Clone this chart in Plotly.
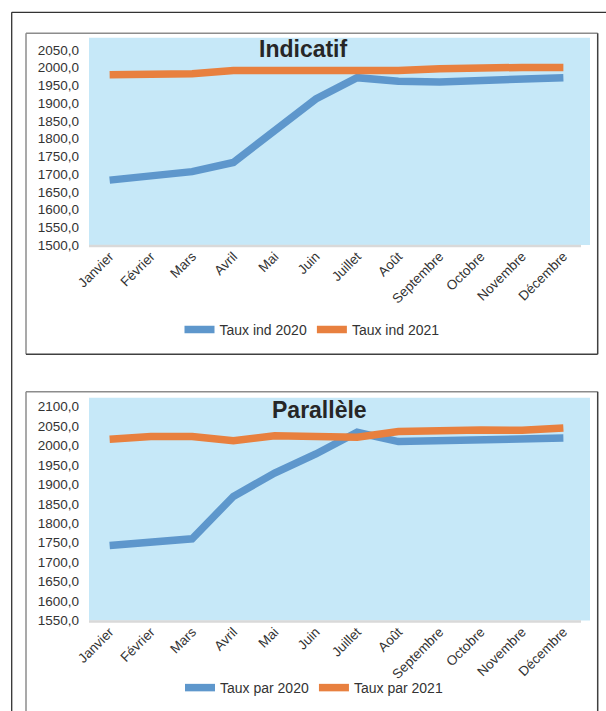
import plotly.graph_objects as go

months = ["Janvier", "Février", "Mars", "Avril", "Mai", "Juin", "Juillet",
          "Août", "Septembre", "Octobre", "Novembre", "Décembre"]
ind_2020 = [1683, 1695, 1707, 1733, 1822, 1912, 1972, 1962, 1960, 1964, 1966, 1972]
ind_2021 = [1980, 1982, 1983, 1992, 1991, 1990, 1990, 1992, 1997, 2001, 2001, 2001]
par_2020 = [1743, 1751, 1760, 1869, 1929, 1978, 2034, 2010, 2013, 2017, 2017, 2019]
par_2021 = [2016, 2023, 2023, 2012, 2025, 2025, 2021, 2036, 2039, 2040, 2039, 2045]
titles = ["Indicatif", "Parallèle"]
names1 = ["Taux ind 2020", "Taux ind 2021"]
names2 = ["Taux par 2020", "Taux par 2021"]

W, H = 606, 711
BLUE = "#5E97CC"
ORANGE = "#E8803F"
BG = "#C6E8F8"
FONT = "Liberation Sans, Arial, sans-serif"


def px(x):
    return x / W


def py(y):
    return 1 - y / H


fig = go.Figure()

fig.add_trace(go.Scatter(x=months, y=ind_2020, name=names1[0], mode="lines",
                         line=dict(color=BLUE, width=7.5), xaxis="x", yaxis="y", legend="legend"))
fig.add_trace(go.Scatter(x=months, y=ind_2021, name=names1[1], mode="lines",
                         line=dict(color=ORANGE, width=7.5), xaxis="x", yaxis="y", legend="legend"))
fig.add_trace(go.Scatter(x=months, y=par_2020, name=names2[0], mode="lines",
                         line=dict(color=BLUE, width=7.5), xaxis="x2", yaxis="y2", legend="legend2"))
fig.add_trace(go.Scatter(x=months, y=par_2021, name=names2[1], mode="lines",
                         line=dict(color=ORANGE, width=7.5), xaxis="x2", yaxis="y2", legend="legend2"))

xcommon = dict(type="category", range=[-0.5, 11.5], showgrid=False, zeroline=False,
               showline=False, ticks="", tickangle=-45, automargin=False,
               tickfont=dict(family=FONT, size=13.5, color="#333333"),
               domain=[px(89), px(584)])
ycommon = dict(showgrid=False, zeroline=False, showline=False, ticks="",
               dtick=50, tickformat=".1f", ticklabelstandoff=9, automargin=False,
               tickfont=dict(family=FONT, size=13.5, color="#333333"))

# chart 1: 1500 at y=245px, 0.3545 px/unit, bg top 38px
top1 = 1500 + (245 - 38) / 0.3545
# chart 2: 1550 at y=620.7px, 0.389 px/unit, bg top 397.7px
top2 = 1550 + (620.5 - 397.7) / 0.389

fig.update_layout(
    width=W, height=H,
    margin=dict(l=0, r=0, t=0, b=0, pad=0, autoexpand=False),
    paper_bgcolor="white",
    plot_bgcolor="rgba(0,0,0,0)",
    separators=",.",
    font=dict(family=FONT, color="#333333"),
    xaxis=dict(anchor="y", **xcommon),
    yaxis=dict(anchor="x", range=[1500, top1], tick0=1500,
               domain=[py(245), py(38)], **ycommon),
    xaxis2=dict(anchor="y2", **xcommon),
    yaxis2=dict(anchor="x2", range=[1550, top2], tick0=1550,
                domain=[py(620.5), py(397.7)], **ycommon),
    legend=dict(orientation="h", x=px(312), y=py(330), xanchor="center", yanchor="middle",
                font=dict(family=FONT, size=14, color="#333333"),
                bgcolor="rgba(0,0,0,0)", itemwidth=30, tracegroupgap=0),
    legend2=dict(orientation="h", x=px(314), y=py(688), xanchor="center", yanchor="middle",
                 font=dict(family=FONT, size=14, color="#333333"),
                 bgcolor="rgba(0,0,0,0)", itemwidth=30, tracegroupgap=0),
    showlegend=True,
)

shapes = []
# outer page frame
shapes.append(dict(type="line", xref="paper", yref="paper", x0=px(11.7), x1=px(606),
                   y0=py(12.3), y1=py(12.3), line=dict(color="#333333", width=1.3)))
shapes.append(dict(type="line", xref="paper", yref="paper", x0=px(11.7), x1=px(11.7),
                   y0=py(12.3), y1=py(711), line=dict(color="#333333", width=1.3)))
# chart frames
for (t, b) in [(33.3, 354.3), (391.7, 711)]:
    shapes.append(dict(type="line", xref="paper", yref="paper", x0=px(26), x1=px(597.7),
                       y0=py(t), y1=py(t), line=dict(color="#8C8C8C", width=1.5)))
    shapes.append(dict(type="line", xref="paper", yref="paper", x0=px(26), x1=px(26),
                       y0=py(b), y1=py(t), line=dict(color="#8C8C8C", width=1.5)))
    shapes.append(dict(type="line", xref="paper", yref="paper", x0=px(597.7), x1=px(597.7),
                       y0=py(b), y1=py(t), line=dict(color="#404040", width=1.5)))
    if b < 700:
        shapes.append(dict(type="line", xref="paper", yref="paper", x0=px(26), x1=px(597.7),
                           y0=py(b), y1=py(b), line=dict(color="#404040", width=1.5)))
# plot area backgrounds and bottom axis lines
for (t, b) in [(37.7, 245), (397.7, 620.5)]:
    shapes.append(dict(type="rect", xref="paper", yref="paper", x0=px(89), x1=px(590),
                       y0=py(b), y1=py(t), fillcolor=BG, line=dict(width=0), layer="below"))
    shapes.append(dict(type="line", xref="paper", yref="paper", x0=px(89), x1=px(581),
                       y0=py(b + 1), y1=py(b + 1), line=dict(color="#D9D9D9", width=2.5),
                       layer="below"))
fig.update_layout(shapes=shapes)

fig.add_annotation(text="<b>" + titles[0] + "</b>", xref="paper", yref="paper",
                   x=px(303), y=py(49), xanchor="center", yanchor="middle", showarrow=False,
                   font=dict(family=FONT, size=23, color="#262626"))
fig.add_annotation(text="<b>" + titles[1] + "</b>", xref="paper", yref="paper",
                   x=px(320), y=py(410), xanchor="center", yanchor="middle", showarrow=False,
                   font=dict(family=FONT, size=23, color="#262626"))

fig.write_html("out.html", config={"displayModeBar": False},
               post_script="document.body.style.margin='0px';")
